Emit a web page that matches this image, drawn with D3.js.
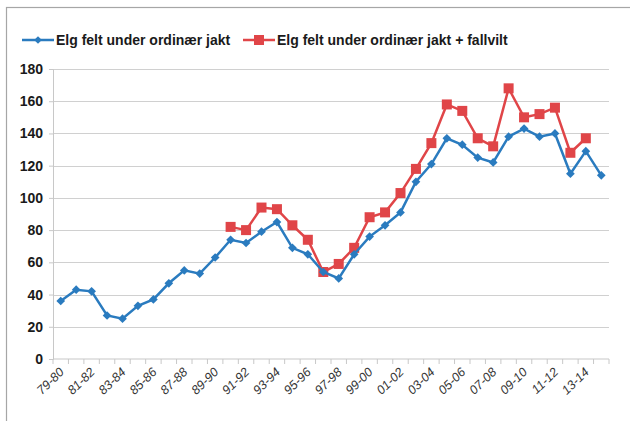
<!DOCTYPE html>
<html><head><meta charset="utf-8">
<script src="https://cdn.jsdelivr.net/npm/d3@7"></script>
<style>body{margin:0;background:#fff}svg{display:block}</style>
</head><body><svg id="c" width="630" height="421"></svg>
<script>
const seasons = ["79-80","80-81","81-82","82-83","83-84","84-85","85-86","86-87","87-88","88-89","89-90","90-91","91-92","92-93","93-94","94-95","95-96","96-97","97-98","98-99","99-00","00-01","01-02","02-03","03-04","04-05","05-06","06-07","07-08","08-09","09-10","10-11","11-12","12-13","13-14","14-15"];
const ordinaer = [36,43,42,27,25,33,37,47,55,53,63,74,72,79,85,69,65,54,50,65,76,83,91,110,121,137,133,125,122,138,143,138,140,115,129,114];
const medFallvilt = [null,null,null,null,null,null,null,null,null,null,null,82,80,94,93,83,74,54,59,69,88,91,103,118,134,158,154,137,132,168,150,152,156,128,137,null];
const yTicks = [0,20,40,60,80,100,120,140,160,180];
const seriesNames = ["Elg felt under ordinær jakt","Elg felt under ordinær jakt + fallvilt"];

const svg = d3.select("#c");
const blue = "#2a7bbf", red = "#e04548";
const L = 53, R = 609, T = 69, B = 359;

// frame
svg.append("rect").attr("x",6.5).attr("y",7.5).attr("width",700).attr("height",500)
  .attr("fill","none").attr("stroke","#a6a6a6").attr("stroke-width",1.2);

const x = d3.scaleBand().domain(seasons).range([L,R]).padding(0);
const y = d3.scaleLinear().domain([0,180]).range([B,T]);

// grid
svg.append("g").selectAll("line").data(yTicks.filter(d=>d>0)).join("line")
  .attr("x1",L).attr("x2",R).attr("y1",d=>Math.round(y(d))+0.5).attr("y2",d=>Math.round(y(d))+0.5)
  .attr("stroke","#d0d0d0").attr("stroke-width",1.2);

// y axis
const ya = svg.append("g").attr("transform",`translate(${L},0)`)
  .call(d3.axisLeft(y).tickValues(yTicks).tickSize(4).tickPadding(6));
ya.select(".domain").attr("stroke","#c8c8c8");
ya.selectAll(".tick line").attr("stroke","#c8c8c8");
ya.selectAll("text").attr("font-family","Liberation Sans, Arial, sans-serif")
  .attr("font-size",14).attr("font-weight","bold").attr("fill","#1a1a1a");

// x axis
const xa = svg.append("g").attr("transform",`translate(0,${B})`);
xa.append("line").attr("x1",L).attr("x2",R).attr("stroke","#c8c8c8").attr("stroke-width",1.2);
const bounds = seasons.map(s=>x(s)).concat([R]);
xa.selectAll("line.tk").data(bounds).join("line").attr("class","tk")
  .attr("x1",d=>d).attr("x2",d=>d).attr("y1",0).attr("y2",5).attr("stroke","#c8c8c8");
xa.selectAll("text").data(seasons.filter((d,i)=>i%2===0)).join("text")
  .attr("transform",d=>`translate(${x(d)+x.bandwidth()/2+4},${14}) rotate(-44)`)
  .attr("text-anchor","end")
  .attr("font-family","Liberation Sans, Arial, sans-serif").attr("font-size",12.5)
  .attr("font-style","italic").attr("fill","#333").text(d=>d);

const cx = d=>x(d)+x.bandwidth()/2;
const line = d3.line().defined(d=>d[1]!=null).x(d=>cx(d[0])).y(d=>y(d[1]));

// red series
const redData = seasons.map((s,i)=>[s,medFallvilt[i]]);
svg.append("path").datum(redData).attr("d",line).attr("fill","none").attr("stroke",red).attr("stroke-width",2.5);
svg.append("g").selectAll("rect").data(redData.filter(d=>d[1]!=null)).join("rect")
  .attr("x",d=>cx(d[0])-5).attr("y",d=>y(d[1])-5).attr("width",10).attr("height",10).attr("fill",red);

// blue series
const blueData = seasons.map((s,i)=>[s,ordinaer[i]]);
svg.append("path").datum(blueData).attr("d",line).attr("fill","none").attr("stroke",blue).attr("stroke-width",2.5);
svg.append("g").selectAll("path").data(blueData).join("path")
  .attr("transform",d=>`translate(${cx(d[0])},${y(d[1])}) rotate(45)`)
  .attr("d",d3.symbol().type(d3.symbolSquare).size(38)).attr("fill",blue);

// legend
const lg = svg.append("g").attr("font-family","Liberation Sans, Arial, sans-serif")
  .attr("font-size",14).attr("font-weight","bold").attr("fill","#1a1a1a");
const items = [{c:blue,x:22,t:seriesNames[0],m:"d"},{c:red,x:243,t:seriesNames[1],m:"s"}];
items.forEach(it=>{
  lg.append("line").attr("x1",it.x).attr("x2",it.x+32).attr("y1",40).attr("y2",40)
    .attr("stroke",it.c).attr("stroke-width",2.5);
  if(it.m==="d"){
    lg.append("path").attr("transform",`translate(${it.x+16},40) rotate(45)`)
      .attr("d",d3.symbol().type(d3.symbolSquare).size(30)).attr("fill",it.c);
  } else {
    lg.append("rect").attr("x",it.x+11).attr("y",35).attr("width",10).attr("height",10).attr("fill",it.c);
  }
  lg.append("text").attr("x",it.x+34).attr("y",45).text(it.t);
});
</script></body></html>
